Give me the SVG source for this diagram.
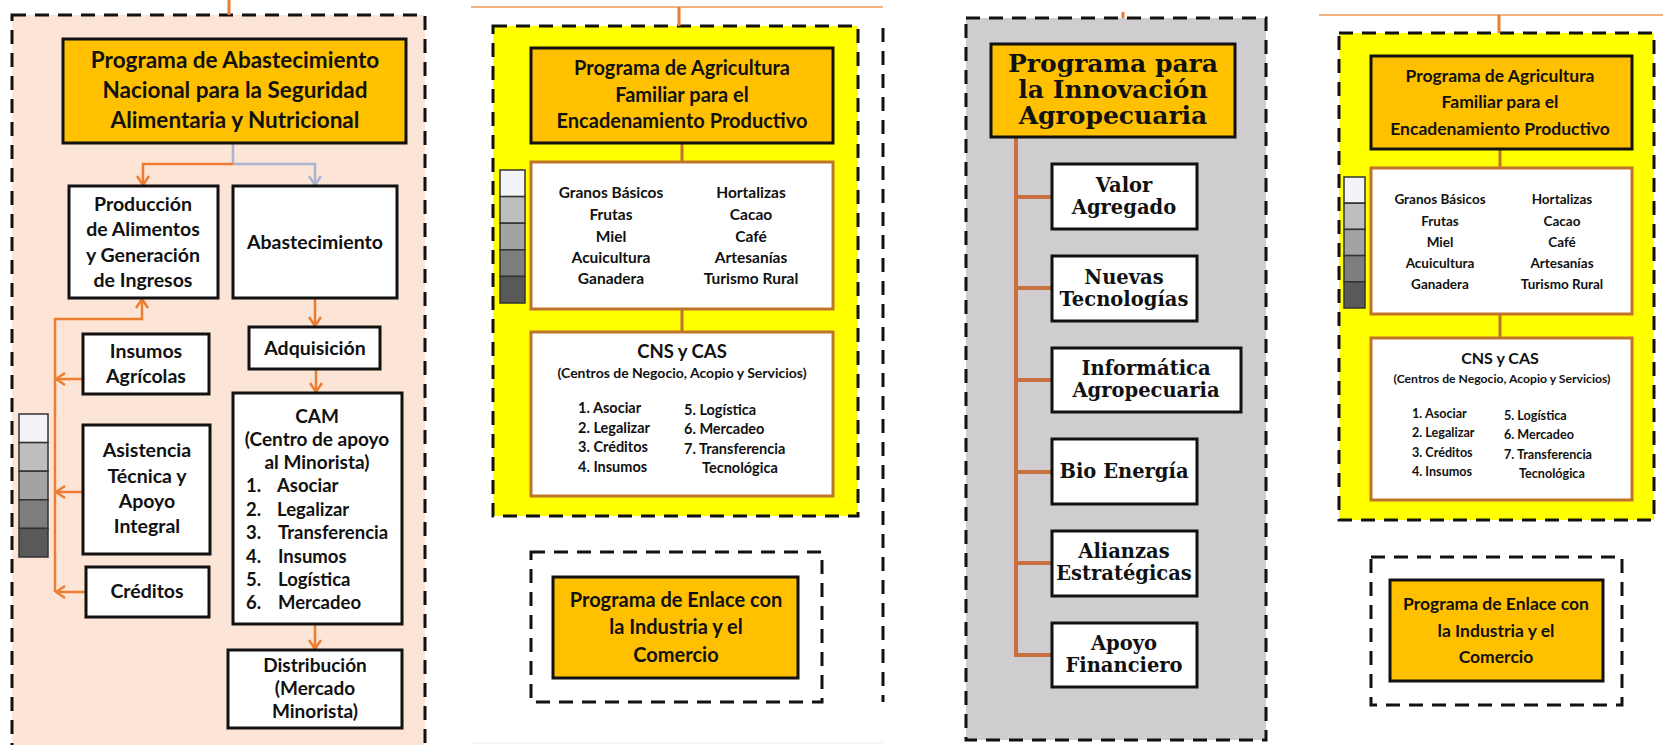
<svg xmlns="http://www.w3.org/2000/svg" width="1663" height="745" viewBox="0 0 1663 745">
<style>
.t{font-family:Lato,"Liberation Sans",sans-serif;font-weight:bold;fill:#111;text-anchor:middle}
.s{font-family:"DejaVu Serif","Liberation Serif",serif;font-weight:bold;fill:#111;text-anchor:middle}
.l{text-anchor:start}
.dash{fill:none;stroke:#111;stroke-width:3;stroke-dasharray:14 9}
.ttl{fill:#FFC000;stroke:#111;stroke-width:3}
.wb{fill:#fff;stroke:#111;stroke-width:3}
.ob{fill:#fff;stroke:#C0732B;stroke-width:3}
.oc{fill:none;stroke:#ED7D31;stroke-width:2.5}
.gc{fill:none;stroke:#A9B4D0;stroke-width:2.5}
.bc{fill:none;stroke:#C0732B;stroke-width:3}
.rc{fill:none;stroke:#C8703F;stroke-width:4}
.bar{stroke:#333;stroke-width:1.5}
</style>
<defs>
<marker id="ao" viewBox="-1 -7 11 14" refX="9" refY="0" markerWidth="11" markerHeight="14" markerUnits="userSpaceOnUse" orient="auto"><path d="M0,-6 L9,0 L0,6" fill="none" stroke="#ED7D31" stroke-width="2.5"/></marker>
<marker id="ag" viewBox="-1 -7 11 14" refX="9" refY="0" markerWidth="11" markerHeight="14" markerUnits="userSpaceOnUse" orient="auto"><path d="M0,-6 L9,0 L0,6" fill="none" stroke="#A9B4D0" stroke-width="2.5"/></marker>
</defs>
<rect width="1663" height="745" fill="#fff"/>

<!-- panel backgrounds -->
<g id="panel1">
<rect x="12" y="15" width="413" height="740" fill="#FCE4D6"/>
<rect x="12" y="15" width="413" height="740" class="dash"/>
</g>
<g id="panel2">
<rect x="493" y="26" width="365" height="490" fill="#FFFF00"/>
<rect x="493" y="26" width="365" height="490" class="dash"/>
<line x1="883" y1="28" x2="883" y2="702" class="dash"/>
</g>
<g id="panel3">
<rect x="966" y="18" width="300" height="722" fill="#CFCDD0"/>
<rect x="966" y="18" width="300" height="722" class="dash"/>
</g>
<g id="panel4">
<rect x="1339" y="33" width="315" height="487" fill="#FFFF00"/>
<rect x="1339" y="33" width="315" height="487" class="dash"/>
</g>

<!-- connectors -->
<g id="connectors">
<line x1="229" y1="0" x2="229" y2="15" stroke="#ED7D31" stroke-width="3"/>
<line x1="471" y1="7" x2="883" y2="7" stroke="#F4B183" stroke-width="2"/>
<line x1="679" y1="7" x2="679" y2="26" stroke="#ED7D31" stroke-width="3"/>
<line x1="471" y1="743" x2="883" y2="743" stroke="#EEEEEE" stroke-width="1"/>
<line x1="1123" y1="12" x2="1123" y2="18" stroke="#ED7D31" stroke-width="3"/>
<line x1="1319" y1="15" x2="1663" y2="15" stroke="#F4B183" stroke-width="2"/>
<line x1="1499" y1="15" x2="1499" y2="33" stroke="#ED7D31" stroke-width="3"/>

<path class="gc" d="M233,143 V164"/>
<path class="oc" d="M233,164 H143 V185" marker-end="url(#ao)"/>
<path class="gc" d="M233,164 H315 V185" marker-end="url(#ag)"/>
<path class="oc" d="M315,298 V326" marker-end="url(#ao)"/>
<path class="oc" d="M316,370 V392" marker-end="url(#ao)"/>
<path class="oc" d="M315,624 V649" marker-end="url(#ao)"/>
<path class="oc" d="M55,592 V319 H142 V299" marker-end="url(#ao)"/>
<path class="oc" d="M83,379 H56" marker-end="url(#ao)"/>
<path class="oc" d="M83,492 H56" marker-end="url(#ao)"/>
<path class="oc" d="M86,592 H56" marker-end="url(#ao)"/>

<path class="bc" d="M682,143 V162 M682,309 V332"/>
<path class="bc" d="M1500,149 V168 M1500,314 V338"/>

<path class="rc" d="M1016,137 V657 M1016,197 H1052 M1016,288 H1052 M1016,380 H1052 M1016,472 H1052 M1016,563 H1052 M1016,655 H1052"/>
</g>

<!-- panel 1 nodes -->
<g id="p1-title">
<rect x="63" y="39" width="343" height="104" class="ttl"/>
<text class="t" font-size="22.5" x="235" y="68">Programa de Abastecimiento</text>
<text class="t" font-size="22.5" x="235" y="98">Nacional para la Seguridad</text>
<text class="t" font-size="22.5" x="235" y="128">Alimentaria y Nutricional</text>
</g>
<g id="p1-produccion">
<rect x="69" y="186" width="149" height="112" class="wb"/>
<text class="t" font-size="19.5" x="143" y="211">Producción</text>
<text class="t" font-size="19.5" x="143" y="236">de Alimentos</text>
<text class="t" font-size="19.5" x="143" y="262">y Generación</text>
<text class="t" font-size="19.5" x="143" y="287">de Ingresos</text>
</g>
<g id="p1-abastecimiento">
<rect x="233" y="186" width="164" height="112" class="wb"/>
<text class="t" font-size="19.5" x="315" y="249">Abastecimiento</text>
</g>
<g id="p1-adquisicion">
<rect x="249" y="327" width="131" height="42" class="wb"/>
<text class="t" font-size="19.5" x="315" y="355">Adquisición</text>
</g>
<g id="p1-cam">
<rect x="233" y="393" width="169" height="231" class="wb"/>
<text class="t" font-size="19" x="317" y="423">CAM</text>
<text class="t" font-size="19" x="317" y="446">(Centro de apoyo</text>
<text class="t" font-size="19" x="317" y="469">al Minorista)</text>
<g font-size="18.5">
<text class="t l" x="246" y="492">1.</text><text class="t l" x="277" y="492">Asociar</text>
<text class="t l" x="246" y="516">2.</text><text class="t l" x="277" y="516">Legalizar</text>
<text class="t l" x="246" y="539">3.</text><text class="t l" x="278" y="539">Transferencia</text>
<text class="t l" x="246" y="563">4.</text><text class="t l" x="278" y="563">Insumos</text>
<text class="t l" x="246" y="586">5.</text><text class="t l" x="278" y="586">Logística</text>
<text class="t l" x="246" y="609">6.</text><text class="t l" x="278" y="609">Mercadeo</text>
</g>
</g>
<g id="p1-distribucion">
<rect x="228" y="650" width="174" height="78" class="wb"/>
<text class="t" font-size="19" x="315" y="672">Distribución</text>
<text class="t" font-size="19" x="315" y="695">(Mercado</text>
<text class="t" font-size="19" x="315" y="718">Minorista)</text>
</g>
<g id="p1-insumos">
<rect x="83" y="334" width="126" height="60" class="wb"/>
<text class="t" font-size="19.5" x="146" y="358">Insumos</text>
<text class="t" font-size="19.5" x="146" y="383">Agrícolas</text>
</g>
<g id="p1-asistencia">
<rect x="83" y="425" width="127" height="129" class="wb"/>
<text class="t" font-size="19.5" x="147" y="457">Asistencia</text>
<text class="t" font-size="19.5" x="147" y="483">Técnica y</text>
<text class="t" font-size="19.5" x="147" y="508">Apoyo</text>
<text class="t" font-size="19.5" x="147" y="533">Integral</text>
</g>
<g id="p1-creditos">
<rect x="86" y="567" width="123" height="50" class="wb"/>
<text class="t" font-size="19.5" x="147" y="598">Créditos</text>
</g>
<g id="p1-scale">
<rect x="19" y="414" width="29" height="28.6" fill="#F3F2F7" class="bar"/>
<rect x="19" y="442.6" width="29" height="28.6" fill="#BEBEBE" class="bar"/>
<rect x="19" y="471.2" width="29" height="28.6" fill="#A3A3A3" class="bar"/>
<rect x="19" y="499.8" width="29" height="28.6" fill="#7E7E7E" class="bar"/>
<rect x="19" y="528.4" width="29" height="28.6" fill="#595959" class="bar"/>
</g>

<!-- panel 2 nodes -->
<g id="p2-title">
<rect x="531" y="48" width="302" height="95" class="ttl"/>
<text class="t" font-size="20" x="682" y="75">Programa de Agricultura</text>
<text class="t" font-size="20" x="682" y="102">Familiar para el</text>
<text class="t" font-size="20" x="682" y="128">Encadenamiento Productivo</text>
</g>
<g id="p2-rubros">
<rect x="531" y="162" width="302" height="147" class="ob"/>
<g font-size="15.5">
<text class="t" x="611" y="198">Granos Básicos</text>
<text class="t" x="611" y="220">Frutas</text>
<text class="t" x="611" y="242">Miel</text>
<text class="t" x="611" y="263">Acuicultura</text>
<text class="t" x="611" y="284">Ganadera</text>
<text class="t" x="751" y="198">Hortalizas</text>
<text class="t" x="751" y="220">Cacao</text>
<text class="t" x="751" y="242">Café</text>
<text class="t" x="751" y="263">Artesanías</text>
<text class="t" x="751" y="284">Turismo Rural</text>
</g>
</g>
<g id="p2-cns">
<rect x="531" y="332" width="302" height="164" class="ob"/>
<text class="t" font-size="18.5" x="682" y="358">CNS y CAS</text>
<text class="t" font-size="14" x="682" y="378">(Centros de Negocio, Acopio y Servicios)</text>
<g font-size="14.5">
<text class="t l" x="578" y="413">1. Asociar</text>
<text class="t l" x="578" y="433">2. Legalizar</text>
<text class="t l" x="578" y="452">3. Créditos</text>
<text class="t l" x="578" y="472">4. Insumos</text>
<text class="t l" x="684" y="415">5. Logística</text>
<text class="t l" x="684" y="434">6. Mercadeo</text>
<text class="t l" x="684" y="454">7. Transferencia</text>
<text class="t l" x="702" y="473">Tecnológica</text>
</g>
</g>
<g id="p2-scale">
<rect x="500" y="170" width="25" height="26.6" fill="#F3F2F7" class="bar"/>
<rect x="500" y="196.6" width="25" height="26.6" fill="#BEBEBE" class="bar"/>
<rect x="500" y="223.2" width="25" height="26.6" fill="#A3A3A3" class="bar"/>
<rect x="500" y="249.8" width="25" height="26.6" fill="#7E7E7E" class="bar"/>
<rect x="500" y="276.4" width="25" height="26.6" fill="#595959" class="bar"/>
</g>
<g id="p2-enlace">
<rect x="531" y="552" width="291" height="150" class="dash"/>
<rect x="553" y="577" width="245" height="101" class="ttl"/>
<text class="t" font-size="20" x="676" y="607">Programa de Enlace con</text>
<text class="t" font-size="20" x="676" y="634">la Industria y el</text>
<text class="t" font-size="20" x="676" y="662">Comercio</text>
</g>

<!-- panel 3 nodes -->
<g id="p3-title">
<rect x="991" y="44" width="244" height="93" class="ttl"/>
<text class="s" font-size="25" x="1113" y="72">Programa para</text>
<text class="s" font-size="25" x="1113" y="98">la Innovación</text>
<text class="s" font-size="25" x="1113" y="124">Agropecuaria</text>
</g>
<g id="p3-valor">
<rect x="1052" y="164" width="145" height="65" class="wb"/>
<text class="s" font-size="19.5" x="1124" y="192">Valor</text>
<text class="s" font-size="19.5" x="1124" y="214">Agregado</text>
</g>
<g id="p3-nuevas">
<rect x="1052" y="256" width="145" height="65" class="wb"/>
<text class="s" font-size="19.5" x="1124" y="284">Nuevas</text>
<text class="s" font-size="19.5" x="1124" y="306">Tecnologías</text>
</g>
<g id="p3-informatica">
<rect x="1052" y="348" width="189" height="64" class="wb"/>
<text class="s" font-size="19.5" x="1146" y="375">Informática</text>
<text class="s" font-size="19.5" x="1146" y="397">Agropecuaria</text>
</g>
<g id="p3-bio">
<rect x="1052" y="439" width="145" height="65" class="wb"/>
<text class="s" font-size="19.5" x="1124" y="478">Bio Energía</text>
</g>
<g id="p3-alianzas">
<rect x="1052" y="531" width="145" height="65" class="wb"/>
<text class="s" font-size="19.5" x="1124" y="558">Alianzas</text>
<text class="s" font-size="19.5" x="1124" y="580">Estratégicas</text>
</g>
<g id="p3-apoyo">
<rect x="1052" y="623" width="145" height="64" class="wb"/>
<text class="s" font-size="19.5" x="1124" y="650">Apoyo</text>
<text class="s" font-size="19.5" x="1124" y="672">Financiero</text>
</g>

<!-- panel 4 nodes -->
<g id="p4-title">
<rect x="1371" y="56" width="261" height="93" class="ttl"/>
<text class="t" font-size="17.5" x="1500" y="82">Programa de Agricultura</text>
<text class="t" font-size="17.5" x="1500" y="108">Familiar para el</text>
<text class="t" font-size="17.5" x="1500" y="135">Encadenamiento Productivo</text>
</g>
<g id="p4-rubros">
<rect x="1371" y="168" width="261" height="146" class="ob"/>
<g font-size="13.5">
<text class="t" x="1440" y="204">Granos Básicos</text>
<text class="t" x="1440" y="226">Frutas</text>
<text class="t" x="1440" y="247">Miel</text>
<text class="t" x="1440" y="268">Acuicultura</text>
<text class="t" x="1440" y="289">Ganadera</text>
<text class="t" x="1562" y="204">Hortalizas</text>
<text class="t" x="1562" y="226">Cacao</text>
<text class="t" x="1562" y="247">Café</text>
<text class="t" x="1562" y="268">Artesanías</text>
<text class="t" x="1562" y="289">Turismo Rural</text>
</g>
</g>
<g id="p4-cns">
<rect x="1371" y="338" width="261" height="162" class="ob"/>
<text class="t" font-size="16" x="1500" y="364">CNS y CAS</text>
<text class="t" font-size="12.2" x="1502" y="383">(Centros de Negocio, Acopio y Servicios)</text>
<g font-size="12.6">
<text class="t l" x="1412" y="418">1. Asociar</text>
<text class="t l" x="1412" y="437">2. Legalizar</text>
<text class="t l" x="1412" y="457">3. Créditos</text>
<text class="t l" x="1412" y="476">4. Insumos</text>
<text class="t l" x="1504" y="420">5. Logística</text>
<text class="t l" x="1504" y="439">6. Mercadeo</text>
<text class="t l" x="1504" y="459">7. Transferencia</text>
<text class="t l" x="1519" y="478">Tecnológica</text>
</g>
</g>
<g id="p4-scale">
<rect x="1344" y="177" width="21" height="26.2" fill="#F3F2F7" class="bar"/>
<rect x="1344" y="203.2" width="21" height="26.2" fill="#BEBEBE" class="bar"/>
<rect x="1344" y="229.4" width="21" height="26.2" fill="#A3A3A3" class="bar"/>
<rect x="1344" y="255.6" width="21" height="26.2" fill="#7E7E7E" class="bar"/>
<rect x="1344" y="281.8" width="21" height="26.2" fill="#595959" class="bar"/>
</g>
<g id="p4-enlace">
<rect x="1371" y="557" width="251" height="148" class="dash"/>
<rect x="1390" y="580" width="213" height="101" class="ttl"/>
<text class="t" font-size="17.5" x="1496" y="610">Programa de Enlace con</text>
<text class="t" font-size="17.5" x="1496" y="637">la Industria y el</text>
<text class="t" font-size="17.5" x="1496" y="663">Comercio</text>
</g>
</svg>
